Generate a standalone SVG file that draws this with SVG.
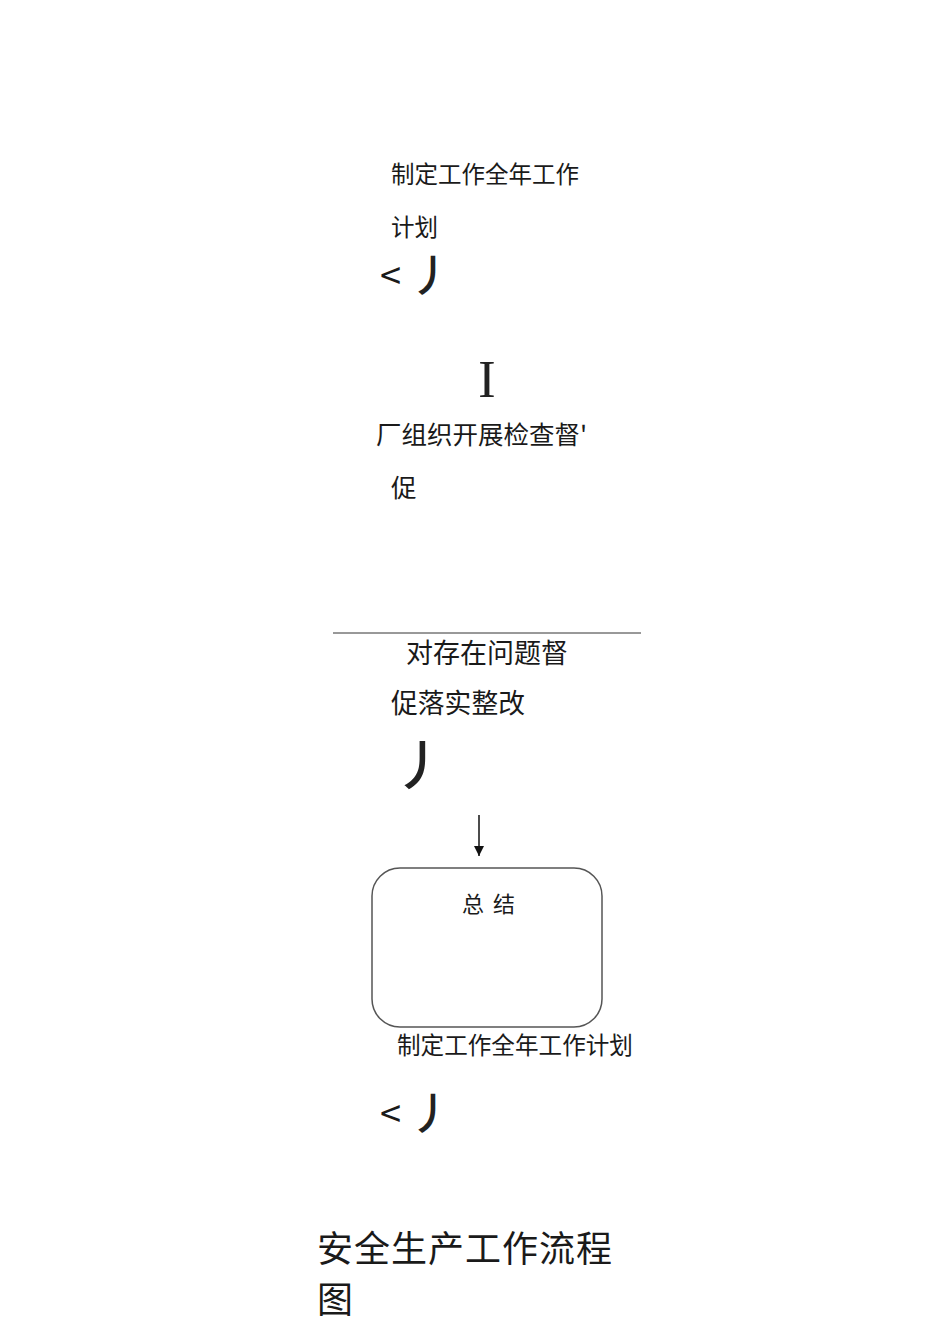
<svg xmlns="http://www.w3.org/2000/svg" width="950" height="1344" viewBox="0 0 950 1344">
<style>
.t{font-family:"Noto Sans CJK SC","Noto Sans",sans-serif;fill:#1a1a1a}
.s{font-family:"Liberation Serif",serif;fill:#222}
.p{font-family:"Noto Sans CJK SC","Noto Sans",sans-serif;fill:#222;font-weight:500}
</style>
<defs>
<marker id="ah" markerWidth="10" markerHeight="10" refX="10" refY="5" orient="auto" markerUnits="userSpaceOnUse" viewBox="0 0 10 10">
<path d="M0,0 L10,5 L0,10 Z" fill="#111"/>
</marker>
</defs>
<rect width="950" height="1344" fill="#fff"/>
<g id="node-plan">
<text class="t" x="391" y="183" font-size="23.5">制定工作全年工作</text>
<text class="t" x="391" y="236" font-size="23.5">计划</text>
<text class="t" x="380" y="290" font-size="38">&lt;</text>
<text class="p" x="409" y="292" font-size="44">丿</text>
</g>
<g id="node-check">
<text class="s" x="487" y="397" font-size="52" text-anchor="middle">I</text>
<text class="t" x="376" y="444" font-size="25.5">厂组织开展检查督'</text>
<text class="t" x="391" y="497" font-size="25.5">促</text>
</g>
<g id="node-rectify">
<text class="t" x="406" y="663" font-size="27">对存在问题督</text>
<text class="t" x="391" y="713" font-size="26.8">促落实整改</text>
<text class="p" x="393" y="786" font-size="54">丿</text>
</g>
<g id="node-summary">
<rect x="372" y="868" width="230" height="159" rx="28" ry="28" fill="#fff" stroke="#555" stroke-width="1.5"/>
<text class="t" x="462" y="912" font-size="22" letter-spacing="9">总结</text>
</g>
<g id="node-plan2">
<text class="t" x="397" y="1054" font-size="23.6">制定工作全年工作计划</text>
<text class="t" x="380" y="1128" font-size="38">&lt;</text>
<text class="p" x="409" y="1130" font-size="44">丿</text>
</g>
<g id="title">
<text class="t" x="317" y="1262" font-size="36" letter-spacing="1">安全生产工作流程</text>
<text class="t" x="317" y="1313" font-size="36">图</text>
</g>
<g id="connectors">
<line x1="333" y1="633" x2="641" y2="633" stroke="#333" stroke-width="1"/>
<line x1="479" y1="815" x2="479" y2="856" stroke="#111" stroke-width="1.5" marker-end="url(#ah)"/>
</g>
</svg>
